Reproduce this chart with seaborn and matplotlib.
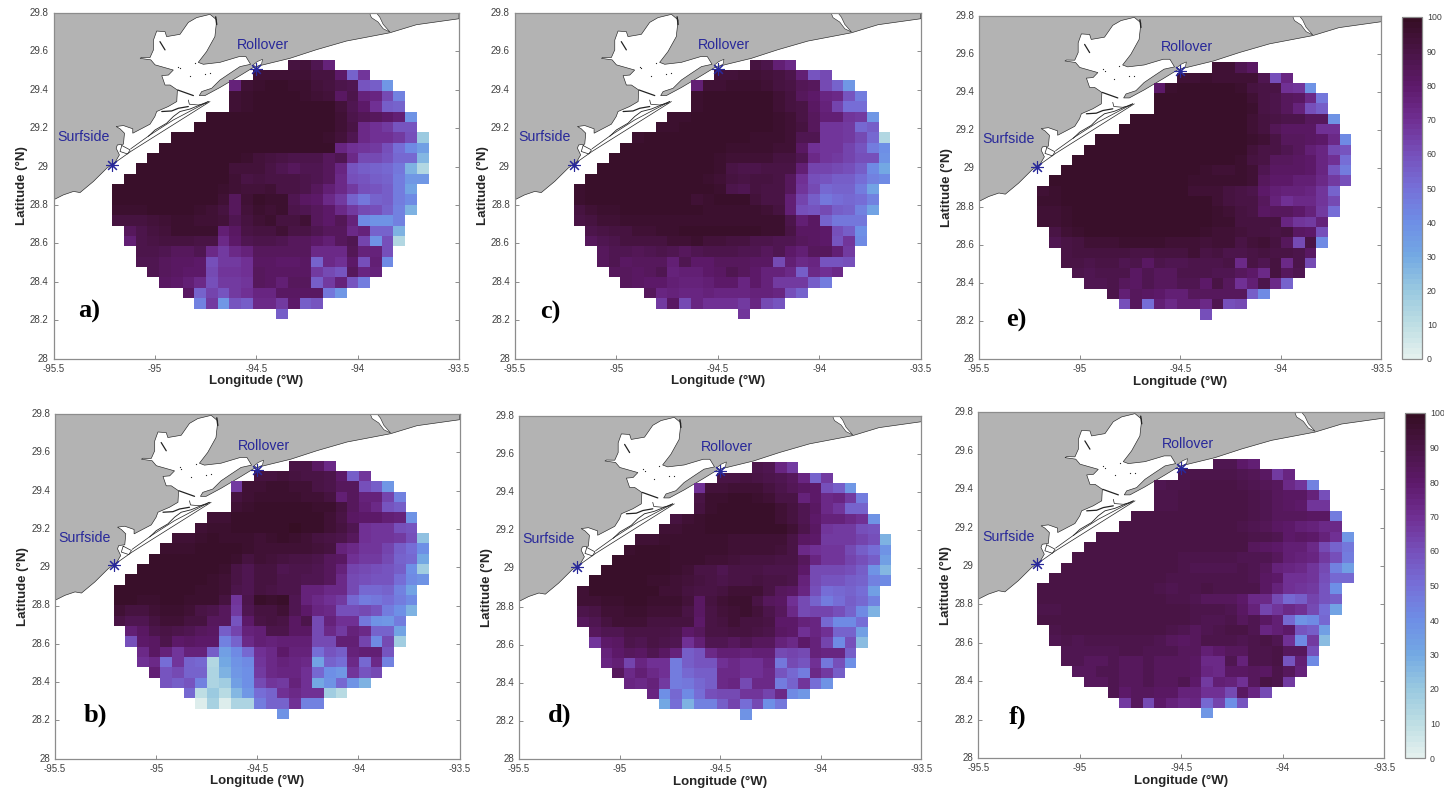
import numpy as np
import matplotlib
matplotlib.use("Agg")
import matplotlib.pyplot as plt
from matplotlib.colors import LinearSegmentedColormap
from matplotlib.transforms import Affine2D
import seaborn as sns

sns.set_style("white")
plt.rcParams['font.family'] = ['Liberation Sans', 'DejaVu Sans']

W, H = 1444, 793

# grid geometry (degrees)
LON0, DLON = -95.21, 0.05778
LAT0, DLAT = 29.557, 0.054
ROW_START = [15,12,10,10,10,8,7,5,4,3,2,1,0,0,0,0,1,1,2,2,3,4,6,7,14]
ROW_LEN = [4,10,14,15,15,18,19,22,23,24,25,26,26,26,26,25,24,24,22,22,20,18,14,11,1]

panel_a = [
[92,93,86,76],
[95,95,95,94,94,92,91,80,54,68],
[75,95,96,97,97,96,96,93,91,89,86,59,56,36],
[94,96,97,97,97,97,96,95,93,82,88,76,74,62,44],
[95,96,97,97,97,97,97,97,97,93,86,80,70,56,54],
[97,97,98,98,98,98,98,98,97,98,98,95,88,85,83,80,78,38],
[97,97,98,98,98,98,98,98,98,98,98,98,95,90,72,70,66,58,58],
[97,97,97,97,97,97,97,97,97,97,97,97,97,96,93,86,72,70,70,66,60,20],
[98,98,98,98,98,97,97,97,97,97,97,97,97,97,97,74,70,68,66,60,50,42,34],
[98,98,98,98,98,98,97,97,96,93,92,90,88,88,88,84,86,72,62,62,58,52,52,26],
[98,98,98,98,98,97,97,97,93,93,93,90,86,84,87,86,84,74,58,55,54,52,48,28,14],
[98,98,98,98,98,98,98,97,97,94,90,91,90,90,90,88,86,84,72,60,58,56,54,46,36,36],
[97,97,98,98,98,98,98,97,97,96,95,93,93,95,90,90,88,84,78,72,66,60,58,56,46,32],
[97,98,98,98,98,98,98,98,98,94,84,95,97,96,96,86,82,80,72,66,54,48,54,56,46,42],
[96,96,96,97,97,97,97,96,95,92,84,93,96,95,96,88,86,84,80,72,66,62,60,54,44,28],
[92,91,91,93,95,96,96,94,94,93,86,92,94,96,92,92,94,84,80,85,76,42,38,38,44],
[84,88,92,93,96,96,96,96,78,82,90,92,92,94,90,90,86,84,84,72,76,54,54,28],
[78,88,90,92,92,92,90,90,72,80,86,88,88,86,84,84,80,78,84,86,64,38,60,14],
[88,88,86,84,84,86,72,66,72,76,84,84,84,84,84,72,72,72,85,76,76,60],
[86,86,84,82,82,80,60,66,66,70,82,82,80,80,82,54,72,70,80,60,78,42],
[86,84,82,80,80,62,68,68,70,84,82,82,82,82,66,62,58,84,74,76],
[82,80,78,72,60,66,66,68,84,82,78,84,84,56,66,76,58,46],
[82,54,64,58,66,70,74,74,82,82,82,82,48,36],
[44,66,36,58,56,72,72,66,80,56,58],
[55],
]

panel_b = [
[90,90,82,72],
[92,92,93,92,90,90,88,80,56,68],
[66,94,95,96,96,94,94,90,88,84,84,60,56,36],
[91,95,96,96,96,96,95,94,92,78,84,76,76,64,44],
[94,96,97,97,97,97,97,96,96,92,84,78,72,58,56],
[94,95,97,98,98,98,98,98,98,97,95,90,82,80,80,78,76,38],
[95,96,96,97,97,97,98,98,99,98,97,95,92,86,70,68,68,60,58],
[94,95,96,97,96,96,96,95,96,97,96,95,92,90,88,84,70,68,68,66,60,22],
[96,96,96,97,97,97,97,96,95,95,95,95,94,93,92,75,72,68,68,64,56,50,40],
[97,97,97,97,97,97,97,96,92,94,93,91,90,90,88,84,82,70,66,66,62,54,52,30],
[97,97,97,97,97,97,97,96,90,86,92,92,86,88,88,86,84,76,64,62,60,58,56,40,18],
[97,97,97,97,97,97,97,96,94,90,86,92,92,88,88,86,86,84,72,62,60,58,58,50,42,38],
[97,97,97,97,97,97,97,96,96,94,88,86,92,90,88,88,76,76,72,72,62,52,52,54,44,32],
[97,97,96,96,97,97,96,96,96,92,68,88,97,96,97,86,76,72,70,66,52,46,48,50,46,42],
[94,92,92,94,96,96,94,90,88,84,66,86,92,92,94,86,80,74,72,60,60,62,58,46,40,28],
[90,86,86,92,94,94,92,92,84,84,58,80,90,92,90,82,88,62,76,70,70,48,38,36,46],
[78,82,88,90,88,86,84,82,56,64,76,78,88,88,82,82,62,72,66,76,72,54,54,32],
[60,80,82,88,80,82,80,80,44,54,72,78,76,78,78,78,62,62,78,78,64,42,62,18],
[72,82,76,68,76,76,56,34,42,52,70,72,80,76,76,50,58,56,76,78,78,58],
[70,72,50,68,54,52,14,30,38,42,68,72,76,74,72,32,54,50,72,52,72,44],
[78,58,62,54,54,15,28,36,40,66,72,74,74,70,52,40,36,68,58,62],
[58,56,58,44,15,18,34,40,62,68,66,76,70,30,38,52,38,28],
[52,10,20,12,25,36,50,54,70,72,70,70,18,12],
[3,16,2,15,15,46,54,54,70,44,44],
[38],
]

panel_c = [
[92,88,78,72],
[93,93,94,94,93,92,88,78,58,62],
[78,95,95,96,96,96,95,92,90,85,84,62,54,36],
[96,97,98,98,98,98,97,95,92,84,80,74,72,58,46],
[96,97,98,98,98,98,98,95,92,90,82,76,64,50,50],
[96,96,97,98,98,98,98,97,97,96,94,90,84,78,78,68,66,36],
[96,96,97,97,97,98,98,98,98,97,96,94,91,84,68,68,66,52,56],
[96,97,97,97,97,97,97,97,97,97,96,96,96,95,86,86,68,68,66,62,52,14],
[98,98,98,98,97,97,97,97,97,96,96,96,96,95,94,82,70,68,68,64,58,46,40],
[98,98,98,98,98,98,98,98,98,96,94,94,94,94,92,92,86,72,68,66,64,60,60,38],
[98,98,98,98,98,98,98,98,98,98,96,90,88,88,90,90,90,78,64,64,62,60,56,42,30],
[97,97,97,98,98,98,98,98,98,97,96,94,91,90,92,92,90,84,70,60,58,56,56,50,44,42],
[96,97,97,97,98,98,98,98,98,98,97,97,96,88,86,92,90,90,84,68,62,52,54,54,46,32],
[96,97,97,97,98,98,98,98,97,97,95,96,97,97,97,93,90,90,78,64,56,48,50,52,50,44],
[91,94,96,96,97,97,97,97,97,97,97,96,96,96,96,96,95,92,78,60,58,62,56,54,44,32],
[90,92,94,95,96,96,96,96,96,96,96,96,96,96,96,96,96,96,88,78,82,54,48,48,48],
[88,90,92,92,94,95,96,96,97,97,97,97,97,97,97,96,96,90,82,82,80,60,56,40],
[84,86,88,92,92,92,92,95,95,96,93,93,92,92,88,88,86,86,84,82,80,58,68,42],
[84,86,86,85,86,88,86,84,86,88,88,88,86,86,84,86,80,78,84,84,78,66],
[84,86,82,84,84,84,78,86,80,80,84,84,84,82,82,62,78,72,74,58,58,60],
[84,84,82,84,86,76,78,78,80,82,86,84,80,76,76,72,56,72,70,72],
[84,82,80,80,78,76,76,78,80,80,74,80,76,66,66,66,56,46],
[84,74,76,74,74,76,74,74,74,76,76,74,60,54],
[66,82,62,74,70,70,70,66,74,62,58],
[68],
]

panel_d = [
[88,86,74,66],
[90,90,92,90,88,86,84,74,54,66],
[70,93,93,94,95,94,92,88,85,82,80,60,56,36],
[90,96,96,97,97,96,95,90,90,76,80,72,74,66,46],
[92,96,97,97,97,97,97,94,92,86,82,72,68,54,54],
[92,94,96,97,97,97,97,97,97,95,91,86,80,76,76,72,70,38],
[94,94,96,96,97,97,97,97,97,97,97,94,88,82,68,66,66,60,58],
[94,95,96,96,96,96,96,96,95,95,95,95,94,90,82,80,66,66,66,64,60,28],
[96,97,97,97,96,96,96,96,96,94,94,94,94,93,90,72,70,68,68,62,56,50,38],
[97,97,97,97,97,96,96,96,94,94,93,92,91,92,90,90,84,74,68,68,64,60,56,34],
[97,97,97,97,97,97,96,94,90,90,86,90,90,90,88,88,88,80,62,62,62,60,56,38,26],
[97,97,97,97,97,96,96,94,93,91,90,88,90,90,91,90,90,88,76,62,58,58,56,54,44,42],
[95,97,97,97,97,97,97,95,95,92,90,90,92,94,94,94,90,84,82,74,60,50,52,54,50,34],
[94,95,96,96,97,97,96,96,96,93,82,92,94,96,96,90,84,82,70,62,54,46,50,56,52,44],
[88,90,94,95,96,96,95,95,95,90,82,90,93,95,96,93,88,84,72,62,64,64,60,54,42,28],
[84,86,92,94,94,95,92,92,92,92,80,90,92,94,92,92,90,80,80,76,74,52,42,42,50],
[84,86,86,90,90,90,90,88,80,84,90,90,92,92,90,88,82,80,70,74,70,54,54,34],
[68,80,82,88,86,90,88,86,70,78,86,86,84,86,84,84,76,72,80,76,64,42,60,24],
[76,80,84,82,86,82,76,56,58,72,78,78,76,78,78,62,64,62,76,74,74,56],
[74,78,64,74,70,70,46,56,58,58,70,72,70,70,74,48,62,58,70,48,60,40],
[84,72,78,72,70,46,52,56,56,72,72,70,70,72,58,52,46,72,66,56],
[74,72,76,66,46,48,52,56,72,74,62,72,72,46,54,68,50,38],
[74,40,52,42,50,60,62,62,68,68,64,72,42,36],
[30,50,28,44,44,56,64,50,62,40,48],
[38],
]

panel_e = [
[95,94,86,82],
[95,95,96,95,95,94,94,86,60,74],
[80,96,97,97,97,97,97,96,92,90,90,70,68,38],
[97,97,98,98,98,98,98,97,94,90,88,84,82,72,48],
[97,98,98,98,98,98,98,98,96,90,88,84,76,60,56],
[98,98,98,98,98,98,98,98,98,98,95,92,90,88,88,84,84,38],
[98,98,98,98,98,98,98,98,98,98,97,95,92,85,82,82,82,70,70],
[98,98,98,98,98,98,98,98,98,98,98,98,98,96,94,90,84,84,82,80,72,42],
[98,98,98,98,98,98,98,98,98,98,98,98,98,97,93,90,90,86,84,78,74,62,58],
[98,98,98,98,98,98,98,98,98,98,98,98,98,98,96,91,90,84,84,82,80,74,70,50],
[98,98,98,98,98,98,98,98,98,98,97,97,96,95,95,96,94,86,82,82,82,80,74,58,46],
[98,98,98,98,98,98,98,98,98,98,97,97,96,96,96,96,96,94,84,80,80,78,78,72,66,60],
[95,96,97,97,97,97,97,97,97,97,97,97,97,95,95,95,92,90,88,80,78,76,76,74,68,54],
[96,96,97,97,97,97,97,97,97,97,97,97,97,97,97,94,92,90,90,84,76,70,72,72,68,62],
[94,95,96,97,97,97,97,97,97,97,97,97,97,97,97,96,94,92,90,82,84,84,80,76,66,50],
[95,95,96,97,97,97,97,97,97,97,97,97,97,97,97,96,96,92,92,92,92,74,68,66,76],
[90,94,96,97,97,97,97,97,97,97,97,97,97,96,95,95,93,92,92,90,92,82,80,60],
[86,90,92,94,94,95,96,96,96,96,95,94,94,93,94,94,90,93,94,92,84,62,90,42],
[90,92,92,92,92,91,90,90,92,92,92,94,90,92,88,88,90,92,90,90,88,82],
[90,90,88,90,90,86,88,82,88,86,86,88,88,88,90,72,90,86,92,72,88,62],
[88,86,88,88,88,82,86,84,84,88,88,88,86,86,84,80,72,92,84,86],
[86,86,88,84,82,86,84,84,86,86,80,90,84,70,78,88,72,54],
[88,78,84,82,80,78,78,84,84,84,84,84,56,42],
[60,84,50,78,72,78,78,72,86,60,62],
[60],
]

panel_f = [
[86,86,80,78],
[89,89,89,88,88,86,85,82,66,74],
[86,89,89,90,90,90,90,88,86,85,84,72,68,44],
[88,89,90,90,90,90,90,90,88,86,84,82,82,76,60],
[88,89,90,90,90,90,90,90,89,87,84,82,80,68,68],
[90,90,90,90,90,90,90,90,90,90,88,86,84,84,84,82,82,46],
[90,90,90,90,90,90,90,90,90,90,89,87,85,82,80,78,76,72,72],
[90,90,90,90,90,90,90,90,90,90,90,90,90,88,88,86,80,82,80,76,70,36],
[90,90,90,90,90,90,90,90,90,90,90,90,90,90,84,82,80,78,78,72,62,54,48],
[90,90,90,90,90,90,90,90,90,89,88,88,88,88,86,86,86,84,78,76,74,66,60,46],
[90,90,90,90,90,90,90,90,90,90,88,86,86,87,86,88,86,84,76,74,72,68,62,44,34],
[90,90,90,90,90,90,90,90,90,90,88,88,88,88,89,89,88,86,82,80,70,70,68,60,52,52],
[90,90,90,90,90,90,90,90,90,90,88,86,88,88,90,88,88,88,88,82,76,70,68,66,58,40],
[90,90,90,90,90,90,90,90,90,90,90,88,88,86,84,84,84,80,72,72,62,52,56,64,58,56],
[89,89,90,90,90,90,90,90,90,90,90,90,90,89,88,88,87,82,76,64,68,72,70,62,50,32],
[90,90,90,90,90,90,90,90,90,90,90,90,90,88,86,86,88,84,86,82,78,52,38,42,52],
[88,90,90,90,90,90,90,90,90,90,88,86,84,86,88,90,90,86,74,78,80,58,56,34],
[86,88,86,88,88,88,88,88,88,86,84,82,84,88,88,88,86,88,90,86,70,42,66,24],
[86,86,86,86,86,88,88,86,86,86,84,84,78,80,84,84,88,88,90,84,84,60],
[86,86,84,84,86,84,84,86,84,84,84,82,72,72,86,76,88,88,90,58,78,42],
[84,84,86,86,84,84,86,84,84,84,82,74,72,82,82,84,82,88,84,76],
[84,84,86,84,84,86,84,84,86,80,66,78,76,70,84,90,88,66],
[86,80,84,84,82,82,76,76,70,70,62,82,74,62],
[66,84,62,80,76,72,74,52,64,40,58],
[36],
]

PANELS = [panel_a, panel_b, panel_c, panel_d, panel_e, panel_f]
LETTERS = ['a)', 'b)', 'c)', 'd)', 'e)', 'f)']
LETTER_POS = [(-95.378, 28.245), (-95.361, 28.228), (-95.375, 28.24),
              (-95.354, 28.23), (-95.367, 28.20), (-95.352, 28.214)]
# axes boxes in pixels: left, right, top, bottom
BOXES = [(53.5, 459, 13, 358.7), (55, 459.5, 414, 758.7), (514.7, 920.7, 13, 358.7),
         (519, 921.3, 416, 759), (979, 1381.3, 16, 359), (978.3, 1384.3, 412.3, 758)]
CBARS = {4: (1401.7, 1422, 17, 359), 5: (1405, 1425, 413, 758)}

X_TICKS = [-95.5, -95, -94.5, -94, -93.5]
X_LABELS = ['-95.5', '-95', '-94.5', '-94', '-93.5']
Y_TICKS = [28, 28.2, 28.4, 28.6, 28.8, 29, 29.2, 29.4, 29.6, 29.8]
Y_LABELS = ['28', '28.2', '28.4', '28.6', '28.8', '29', '29.2', '29.4', '29.6', '29.8']

LAND_LON = [-95.5,-95.451,-95.401,-95.369,-95.303,-95.237,-95.196,-95.175,-95.191,-95.185,-95.155,-95.150,-95.172,
            -95.191,-95.155,-95.109,-95.109,-95.024,-95.0,-94.991,-94.934,-94.892,-94.889,-94.925,-94.95,-94.966,
            -94.933,-94.909,-94.999,-95.02,-95.073,-95.065,-95.024,-95.007,-95.007,-94.991,-94.95,-94.942,-94.876,
            -94.835,-94.794,-94.728,-94.695,-94.704,-94.745,-94.786,-94.761,-94.679,-94.584,-94.551,-94.528,-94.58,
            -94.63,-94.679,-94.72,-94.769,-94.781,-94.753,-94.679,-94.58,-94.515,-94.482,-94.334,-94.203,-94.055,
            -93.841,-93.71,-93.5,-93.5,-95.5]
LAND_LAT = [28.827,28.853,28.871,28.865,28.923,28.992,29.023,29.061,29.096,29.113,29.117,29.174,29.197,
            29.209,29.214,29.197,29.174,29.221,29.261,29.287,29.313,29.339,29.399,29.425,29.425,29.474,
            29.477,29.503,29.53,29.556,29.564,29.569,29.568,29.608,29.659,29.706,29.703,29.677,29.689,
            29.751,29.776,29.793,29.764,29.677,29.599,29.543,29.533,29.543,29.573,29.573,29.533,29.521,
            29.486,29.451,29.408,29.391,29.37,29.37,29.412,29.474,29.516,29.526,29.564,29.609,29.654,
            29.697,29.739,29.77,29.8,29.8]
SABINE_LON = [-93.94,-93.907,-93.891,-93.874,-93.841,-93.874,-93.899,-93.932]
SABINE_LAT = [29.797,29.8,29.779,29.741,29.701,29.718,29.753,29.776]
ROLL_LON = [-94.515,-94.495,-94.469,-94.474,-94.502]
ROLL_LAT = [29.53,29.547,29.559,29.533,29.519]
LOOP_LON = [-95.163,-95.122,-95.135,-95.172,-95.163]
LOOP_LAT = [29.11,29.087,29.066,29.079,29.11]
BARRIER_LINES = [
    ([-95.213,-95.119,-94.728], [29.009,29.079,29.339], 0.5),
    ([-95.119,-95.024,-94.909,-94.736], [29.093,29.165,29.243,29.339], 0.5),
    ([-95.032,-94.999,-94.942,-94.909,-94.876,-94.827,-94.736], [29.158,29.191,29.226,29.261,29.287,29.3,29.339], 0.6),
    ([-94.966,-94.917,-94.884,-94.835], [29.287,29.29,29.304,29.313], 0.9),
    ([-94.835,-94.83,-94.786,-94.745], [29.347,29.325,29.321,29.33], 0.5),
    ([-94.887,-94.81], [29.399,29.37], 0.9),
    ([-94.975,-94.95], [29.651,29.608], 0.9),
    ([-94.70,-94.695], [29.78,29.74], 1.0),
]
DOT_LON = [-94.884,-94.876,-94.827,-94.802,-94.753,-94.728]
DOT_LAT = [29.521,29.512,29.472,29.538,29.483,29.486]
STATION_LON = [-95.21, -94.5]
STATION_LAT = [29.01, 29.51]
STATION_NAMES = ['Surfside', 'Rollover']
STATION_TEXT = [(-95.353, 29.153), (-94.467, 29.635)]

BLUE = '#28289a'
SPINE = '#8c8c8c'
TICKTXT = '#404040'
CMAP_COLORS = ['#e3f0ee', '#bcdde3', '#98c8e0', '#73a8e3', '#6e8ee6', '#7670d8',
               '#7650bb', '#702f93', '#5e1a6b', '#4a1447', '#360e24']
cmap = LinearSegmentedColormap.from_list('dense_like', CMAP_COLORS, N=64)

bad = [(p, k, len(v), ROW_LEN[k]) for p, rows in enumerate(PANELS)
       for k, v in enumerate(rows) if len(v) != ROW_LEN[k]]
if bad:
    raise ValueError(f"row length mismatch: {bad}")


def add_axes_px(l, r, t, b):
    return fig.add_axes([l / W, 1 - b / H, (r - l) / W, (b - t) / H])


fig = plt.figure(figsize=(W / 100, H / 100), dpi=100, facecolor='white')

for i, rows in enumerate(PANELS):
    l, r, t, b = BOXES[i]
    ax = add_axes_px(l, r, t, b)
    grid = np.full((25, 27), np.nan)
    for k, vals in enumerate(rows):
        grid[k, ROW_START[k]:ROW_START[k] + len(vals)] = vals
    if i in CBARS:
        cl, cr, ct, cb = CBARS[i]
        cax = add_axes_px(cl, cr, ct, cb)
        kw = dict(cbar=True, cbar_ax=cax, cbar_kws={'ticks': list(range(0, 101, 10))})
    else:
        kw = dict(cbar=False)
    sns.heatmap(grid, ax=ax, vmin=0, vmax=100, cmap=cmap, linewidths=0, **kw)
    mesh = ax.collections[0]
    mesh.set_transform(Affine2D().scale(DLON, -DLAT).translate(LON0, LAT0) + ax.transData)
    mesh.set_zorder(2)
    if i in CBARS:
        cax.tick_params(direction='in', length=3, width=0.7, color=SPINE,
                        labelsize=6.3, labelcolor=TICKTXT, pad=3.5, right=True)
        cb_obj = mesh.colorbar
        cb_obj.outline.set_edgecolor(SPINE)
        cb_obj.outline.set_linewidth(0.9)
        cb_obj.outline.set_visible(True)

    ax.set_facecolor('white')
    ax.set_aspect('auto')
    ax.fill(LAND_LON, LAND_LAT, facecolor='#b3b3b3', edgecolor='#222222', linewidth=0.45, zorder=1)
    ax.fill(SABINE_LON, SABINE_LAT, facecolor='white', edgecolor='#222222', linewidth=0.4, zorder=1.2)
    ax.fill(ROLL_LON, ROLL_LAT, facecolor='white', edgecolor='#222222', linewidth=0.4, zorder=1.2)
    ax.plot(LOOP_LON, LOOP_LAT, color='#222222', lw=0.5, zorder=1.3)
    for xs, ys, lw in BARRIER_LINES:
        ax.plot(xs, ys, color='#222222', lw=lw, zorder=1.3)
    ax.plot(DOT_LON, DOT_LAT, ls='none', marker='o', ms=0.9, color='#222222', mew=0, zorder=1.3)
    ax.plot(STATION_LON, STATION_LAT, ls='none', marker=(8, 2, 0), ms=9, mew=0.8,
            color=BLUE, zorder=4)
    for name, (tx, ty) in zip(STATION_NAMES, STATION_TEXT):
        ax.text(tx, ty, name, color=BLUE, fontsize=10.2, ha='center', va='center', zorder=4)
    ax.text(*LETTER_POS[i], LETTERS[i], family='Liberation Serif', fontweight='bold',
            fontsize=19, ha='left', va='center', color='black', zorder=4)

    ax.set_xlim(-95.5, -93.5)
    ax.set_ylim(28, 29.8)
    ax.set_xticks(X_TICKS)
    ax.set_xticklabels(X_LABELS, rotation=0)
    ax.set_yticks(Y_TICKS)
    ax.set_yticklabels(Y_LABELS, rotation=0)
    ax.tick_params(direction='in', length=3, width=0.7, color=SPINE, labelsize=7,
                   labelcolor=TICKTXT, top=True, right=True, bottom=True, left=True, pad=3.5)
    for s in ax.spines.values():
        s.set_visible(True)
        s.set_color(SPINE)
        s.set_linewidth(0.9)
    ax.set_xlabel('Longitude (°W)', fontsize=9.5, fontweight='bold', color='#262626', va='center')
    ax.set_ylabel('Latitude (°N)', fontsize=9.5, fontweight='bold', color='#262626', va='center')
    ax.xaxis.set_label_coords(0.5, -22.5 / (b - t))
    ax.yaxis.set_label_coords(-32.0 / (r - l), 0.5)

fig.savefig('out.png', dpi=100, facecolor='white')
